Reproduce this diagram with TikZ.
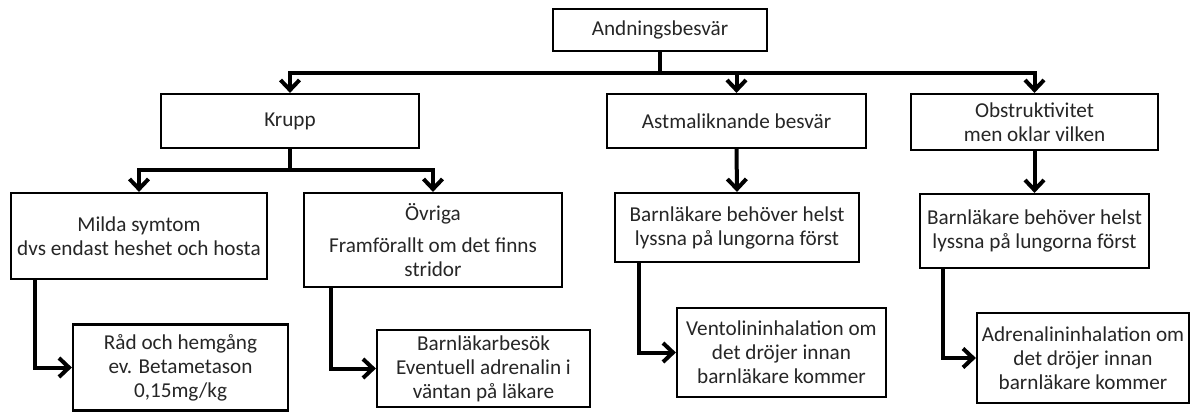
\documentclass[tikz,border=0pt]{standalone}
\usepackage{fontspec}
\setmainfont{Carlito}
\usetikzlibrary{arrows.meta}
\begin{document}
\begin{tikzpicture}[x=0.5pt,y=-0.5pt,
  box/.style={draw=black, line width=1.1pt, fill=white, rectangle, align=center,
    inner sep=0pt, font=\fontsize{10.6pt}{12pt}\selectfont, text=black!85},
  conn/.style={line width=2pt, line join=miter},
  arr/.style={conn, -{Straight Barb[length=5pt,width=9.5pt]}}
]
\useasboundingbox (0,0) rectangle (1192,412);
% boxes
\node[box, minimum width=107pt, minimum height=21pt] (top) at (660,30) {Andningsbesvär};
\node[box, minimum width=129pt, minimum height=27pt] (krupp) at (290,121) {Krupp};
\node[box, minimum width=129.5pt, minimum height=27pt] (astmal) at (736.5,121) {Astmaliknande besvär};
\node[box, minimum width=123.5pt, minimum height=28pt] (obstr) at (1034.5,122) {Obstruktivitet\\men oklar vilken};
\node[box, minimum width=128pt, minimum height=43pt] (milda) at (139,236) {Milda symtom\\dvs endast heshet och hosta};
\node[box, minimum width=129pt, minimum height=47pt] (ovriga) at (433,240) {Övriga\\[4pt]Framförallt om det finns\\stridor};
\node[box, minimum width=122pt, minimum height=34.5pt] (barn1) at (737,227.5) {Barnläkare behöver helst\\lyssna på lungorna först};
\node[box, minimum width=114.5pt, minimum height=37pt] (barn2) at (1034.5,231) {Barnläkare behöver helst\\lyssna på lungorna först};
\node[box, minimum width=107.5pt, minimum height=43pt] (rad) at (180.5,367.5) {Råd och hemgång\\ev. Betametason\\0,15mg/kg};
\node[box, minimum width=106.5pt, minimum height=38.5pt] (besok) at (483.5,368.5) {Barnläkarbesök\\Eventuell adrenalin i\\väntan på läkare};
\node[box, minimum width=104.5pt, minimum height=44.5pt] (vent) at (781.5,352.5) {Ventolininhalation om\\det dröjer innan\\barnläkare kommer};
\node[box, minimum width=106pt, minimum height=45pt] (adr) at (1083,358) {Adrenalininhalation om\\det dröjer innan\\barnläkare kommer};
% connectors from top
\draw[conn] (top.south) -- ++(0,21) coordinate (j1);
\draw[arr] (j1) -| (krupp.north);
\draw[arr] (j1) -| (astmal.north);
\draw[arr] (j1) -| (obstr.north);
% from krupp
\draw[conn] (krupp.south) -- ++(0,21) coordinate (j2);
\draw[arr] (j2) -| (milda.north);
\draw[arr] (j2) -| (ovriga.north);
% straight
\draw[arr] (astmal.south) -- (barn1.north);
\draw[arr] (obstr.south) -- (barn2.north);
% elbows
\draw[arr] ([xshift=12.5pt]milda.south west) |- (rad.west);
\draw[arr] ([xshift=14pt]ovriga.south west) |- (besok.west);
\draw[arr] ([xshift=12.5pt]barn1.south west) |- (vent.west);
\draw[arr] ([xshift=12pt]barn2.south west) |- (adr.west);
\end{tikzpicture}
\end{document}
